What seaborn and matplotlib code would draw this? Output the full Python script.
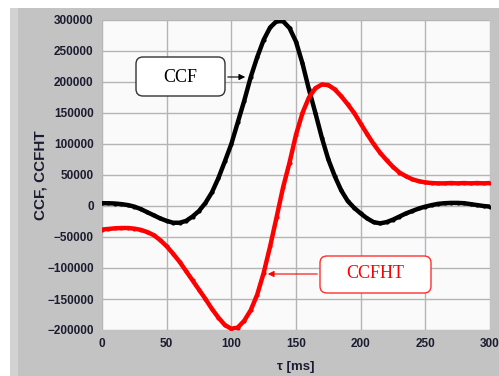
import matplotlib
matplotlib.use("Agg")
import matplotlib.pyplot as plt
from matplotlib.patches import FancyBboxPatch, Rectangle
import pandas as pd
import seaborn as sns

# tau axis in ms, values every 5 ms
tau = list(range(0, 305, 5))
ccf = [4500, 4500, 4000, 3000, 1500, -1000, -5000, -10000, -15000, -20000,
       -24000, -27000, -27000, -24000, -17000, -8000, 5000, 22000, 45000, 72000,
       100000, 135000, 170000, 208000, 240000, 268000, 288000, 298000, 298000, 287000,
       265000, 230000, 188000, 150000, 110000, 75000, 48000, 25000, 8000, -3000,
       -12000, -20000, -26000, -28000, -26000, -22000, -17000, -12000, -8000, -4000,
       -1000, 1500, 3500, 4500, 5000, 5000, 4500, 3000, 1500, 0, -1000]
ccfht = [-38000, -37000, -36000, -35500, -35500, -36500, -38500, -42000, -47000, -55000,
         -65000, -77000, -90000, -105000, -120000, -135000, -150000, -166000, -180000, -192000,
         -198000, -196000, -185000, -168000, -143000, -108000, -65000, -18000, 30000, 70000,
         115000, 150000, 175000, 190000, 196000, 195000, 188000, 177000, 164000, 150000,
         133000, 116000, 100000, 86000, 74000, 63000, 54000, 48000, 43000, 40000,
         38000, 37000, 36500, 36500, 37000, 36500, 37000, 36500, 37000, 36500, 37000]

df = pd.DataFrame({"tau": tau, "CCF": ccf, "CCFHT": ccfht})

sns.set_style("white")
plt.rcParams["font.family"] = ["Liberation Sans", "DejaVu Sans"]

W, H = 499, 376
fig = plt.figure(figsize=(W / 100, H / 100), dpi=100, facecolor="white")
# gray panel behind the graph
fig.patches.append(Rectangle((10 / W, 0), 1 - 10 / W, 1 - 8 / H, transform=fig.transFigure,
                             facecolor="#c3c3c3", edgecolor="none", zorder=-10))
fig.patches.append(Rectangle((10 / W, 0), 8 / W, 1 - 8 / H, transform=fig.transFigure,
                             facecolor="#d2d2d2", edgecolor="none", zorder=-9))

ax = fig.add_axes([102 / W, 1 - 330 / H, 388 / W, 310 / H])
ax.set_facecolor("#fafafa")

sns.lineplot(data=df, x="tau", y="CCF", ax=ax, color="black", lw=3.2,
             marker="o", markersize=3.0, markeredgewidth=0, zorder=3)
sns.lineplot(data=df, x="tau", y="CCFHT", ax=ax, color="#ff0000", lw=3.2,
             marker="o", markersize=3.0, markeredgewidth=0, zorder=3)

ax.set_xlim(0, 300)
ax.set_ylim(-200000, 300000)
ax.set_xticks(range(0, 301, 50))
ax.set_yticks(range(-200000, 300001, 50000))
ax.grid(True, color="#b4b4b4", lw=1)
for s in ax.spines.values():
    s.set_visible(False)
ax.tick_params(axis="both", direction="out", length=4, width=1, color="#555555",
               labelsize=8.5, labelcolor="#1c1c30", pad=2)
for lab in ax.get_xticklabels() + ax.get_yticklabels():
    lab.set_fontweight("bold")

ax.set_xlabel("τ [ms]", fontsize=9.5, fontweight="bold", color="#1c1c30", labelpad=8)
ax.set_ylabel("CCF, CCFHT", fontsize=11, fontweight="bold", color="#1c1c30", labelpad=0)

# annotation boxes (figure pixels)
ident = matplotlib.transforms.IdentityTransform()
fig.patches.append(FancyBboxPatch((136, H - 96), 89, 39, boxstyle="round,pad=0,rounding_size=7",
                                  transform=ident, facecolor="white", edgecolor="#333333", lw=1, zorder=5))
fig.text(180.5, H - 77, "CCF", transform=ident, ha="center", va="center",
         fontsize=13, family="Liberation Serif", color="black", zorder=6)
ax.annotate("", xy=(248, H - 77), xytext=(225, H - 77), xycoords="figure pixels",
            textcoords="figure pixels", arrowprops=dict(arrowstyle="-|>", color="black", lw=0.8,
                                                        mutation_scale=9))

fig.patches.append(FancyBboxPatch((320, H - 293), 111, 37, boxstyle="round,pad=0,rounding_size=7",
                                  transform=ident, facecolor="white", edgecolor="#ff3030", lw=1, zorder=5))
fig.text(375.5, H - 274, "CCFHT", transform=ident, ha="center", va="center",
         fontsize=13, family="Liberation Serif", color="#ff0000", zorder=6)
ax.annotate("", xy=(265, H - 274), xytext=(320, H - 274), xycoords="figure pixels",
            textcoords="figure pixels", arrowprops=dict(arrowstyle="-|>", color="#ff0000", lw=0.8,
                                                        mutation_scale=9))

fig.savefig("out.png", dpi=100, facecolor="white")
